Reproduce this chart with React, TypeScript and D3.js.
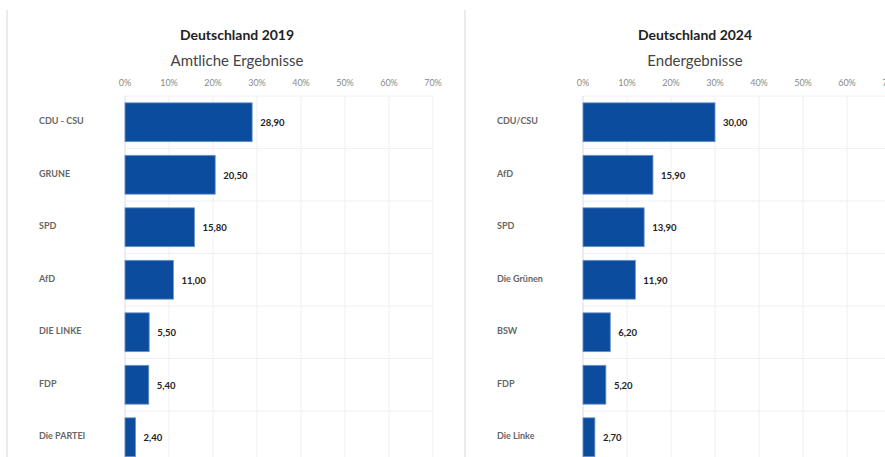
import React from "react";
import * as d3 from "d3";

const parties2019 = ["CDU - CSU", "GRUNE", "SPD", "AfD", "DIE LINKE", "FDP", "Die PARTEI"];
const values2019 = [28.9, 20.5, 15.8, 11.0, 5.5, 5.4, 2.4];
const parties2024 = ["CDU/CSU", "AfD", "SPD", "Die Grünen", "BSW", "FDP", "Die Linke"];
const values2024 = [30.0, 15.9, 13.9, 11.9, 6.2, 5.2, 2.7];
const xTicks = [0, 10, 20, 30, 40, 50, 60, 70];

const FONT = "Lato, 'Open Sans', sans-serif";

function Panel({ left, title, subtitle, parties, values }: { left: number; title: string; subtitle: string; parties: string[]; values: number[] }) {
  const x0 = left + 118;
  const x = d3.scaleLinear().domain([0, 70]).range([x0, x0 + 308]);
  const step = 52.5;
  const top = 96;
  const y = d3
    .scaleBand<string>()
    .domain(parties)
    .range([top, top + step * parties.length])
    .paddingInner(0.26)
    .paddingOuter(0.13);
  const fmt = (v: number) => d3.format(".2f")(v).replace(".", ",");
  return (
    <g>
      <line x1={left} x2={left} y1={10} y2={457} stroke="#ebebeb" strokeWidth={2} />
      <text x={left + 230} y={40} textAnchor="middle" fontFamily={FONT} fontWeight={700} fontSize={14} fill="#222">
        {title}
      </text>
      <text x={left + 230} y={66} textAnchor="middle" fontFamily={FONT} fontSize={15} fill="#444">
        {subtitle}
      </text>
      {xTicks.map((t) => (
        <g key={t}>
          <line x1={x(t)} x2={x(t)} y1={top} y2={457} stroke="#eef0f3" strokeWidth={1} />
          <text x={x(t)} y={86} textAnchor="middle" fontFamily={FONT} fontSize={9} fill="#8a8a8a">
            {t}%
          </text>
        </g>
      ))}
      {d3.range(parties.length + 1).map((i) => (
        <line key={i} x1={x0} x2={x(70)} y1={top + i * step} y2={top + i * step} stroke="#eef0f3" strokeWidth={1} />
      ))}
      <line x1={x0} x2={x0} y1={top} y2={457} stroke="#dde3ee" strokeWidth={1} />
      {parties.map((p, i) => {
        const yy = y(p)!;
        const bh = y.bandwidth();
        return (
          <g key={p}>
            <text x={left + 32} y={yy + bh / 2 + 2} fontFamily={FONT} fontWeight={700} fontSize={9} fill="#666">
              {p}
            </text>
            <rect x={x(0)} y={yy} width={x(values[i]) - x(0)} height={bh} fill="#0c4c9f" stroke="#6d93cc" strokeWidth={0.8} />
            <text x={x(values[i]) + 8} y={yy + bh / 2 + 4} fontFamily={FONT} fontWeight={700} fontSize={9.5} fill="#222">
              {fmt(values[i])}
            </text>
          </g>
        );
      })}
    </g>
  );
}

export default function App() {
  return (
    <svg width={885} height={457} style={{ position: "absolute", left: 0, top: 0, background: "#fff" }}>
      <rect width={885} height={457} fill="#fff" />
      <Panel left={7} title="Deutschland 2019" subtitle="Amtliche Ergebnisse" parties={parties2019} values={values2019} />
      <Panel left={465} title="Deutschland 2024" subtitle="Endergebnisse" parties={parties2024} values={values2024} />
    </svg>
  );
}
